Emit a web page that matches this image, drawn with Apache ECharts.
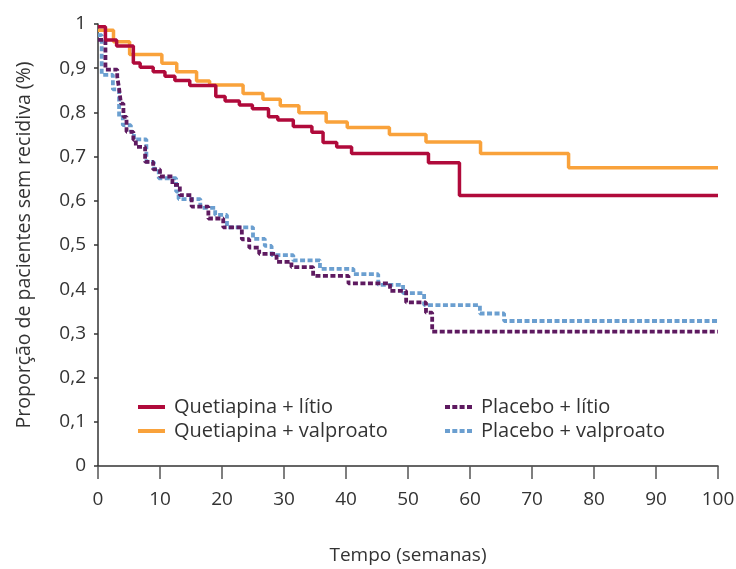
<!DOCTYPE html>
<html>
<head>
<meta charset="utf-8">
<script src="https://cdn.jsdelivr.net/npm/echarts@6/dist/echarts.min.js"></script>
<style>html,body{margin:0;padding:0;background:#fff}#c{width:736px;height:569px}</style>
</head>
<body>
<div id="c"></div>
<script>
// Data (Kaplan-Meier step curves)
const seriesNames = ['Quetiapina + lítio', 'Quetiapina + valproato', 'Placebo + lítio', 'Placebo + valproato'];
const xTicks = [0, 10, 20, 30, 40, 50, 60, 70, 80, 90, 100];
const yTickLabels = ['0', '0,1', '0,2', '0,3', '0,4', '0,5', '0,6', '0,7', '0,8', '0,9', '1'];

const quetLitioT = [0, 1.2, 3.0, 5.7, 6.8, 8.9, 10.8, 12.4, 14.8, 19.0, 20.5, 22.8, 24.9, 27.5, 29.0, 31.5, 34.5, 36.3, 38.5, 40.9, 53.3, 58.3, 100];
const quetLitioV = [0.994, 0.964, 0.950, 0.912, 0.902, 0.892, 0.882, 0.872, 0.861, 0.836, 0.826, 0.817, 0.808, 0.790, 0.783, 0.768, 0.755, 0.732, 0.722, 0.707, 0.686, 0.612, 0.612];

const quetValpT = [0, 2.5, 5.1, 10.3, 12.7, 15.9, 18.0, 23.4, 26.6, 29.4, 32.4, 36.8, 40.2, 47.0, 52.9, 61.7, 75.9, 100];
const quetValpV = [0.986, 0.960, 0.931, 0.911, 0.892, 0.871, 0.862, 0.843, 0.830, 0.815, 0.799, 0.778, 0.766, 0.750, 0.733, 0.707, 0.675, 0.675];

const placLitioT = [0, 1.2, 3.1, 3.4, 3.7, 4.1, 4.6, 5.7, 6.1, 7.6, 8.9, 10.0, 12.0, 13.2, 15.1, 17.8, 20.2, 23.2, 24.4, 26.0, 28.8, 31.2, 34.7, 40.4, 47.1, 49.7, 52.9, 53.9, 100];
const placLitioV = [0.964, 0.897, 0.881, 0.854, 0.820, 0.790, 0.756, 0.738, 0.722, 0.688, 0.671, 0.655, 0.636, 0.613, 0.587, 0.560, 0.540, 0.513, 0.494, 0.480, 0.462, 0.450, 0.430, 0.413, 0.396, 0.370, 0.347, 0.304, 0.304];

const placValpT = [0, 0.6, 2.4, 3.4, 4.0, 5.3, 5.8, 7.8, 9.0, 9.8, 12.6, 13.0, 16.5, 18.9, 20.8, 25.0, 26.9, 28.0, 31.5, 35.8, 41.2, 45.2, 49.2, 52.6, 61.6, 65.5, 100];
const placValpV = [0.975, 0.885, 0.852, 0.790, 0.771, 0.756, 0.739, 0.688, 0.672, 0.651, 0.621, 0.604, 0.584, 0.568, 0.540, 0.514, 0.498, 0.477, 0.465, 0.446, 0.434, 0.410, 0.391, 0.364, 0.345, 0.328, 0.328];

const colors = ['#B00A3B', '#F9A23B', '#5E1A60', '#6B9FD0'];
const FONT = 'Open Sans';
const SOLID_ICON = 'rect';
const DASH_ICON = 'path://M0,0h5v4h-5zM7.3,0h5v4h-5zM14.6,0h5v4h-5zM22,0h5v4h-5z';

function pairs(t, v) { return t.map((x, i) => [x, v[i]]); }

const chart = echarts.init(document.getElementById('c'), null, { renderer: 'canvas' });

function mkSeries(i, t, v, dashed) {
  return {
    name: seriesNames[i],
    type: 'line',
    step: 'end',
    data: pairs(t, v),
    symbol: 'none',
    showSymbol: false,
    clip: false,
    z: 10 - i,
    lineStyle: { color: colors[i], width: dashed ? 3.8 : 3.5, type: dashed ? [5, 2.5] : 'solid', cap: 'butt' },
    itemStyle: { color: colors[i] },
    emphasis: { disabled: true },
    animation: false
  };
}

function legendBlock(left, idx) {
  return {
    left: left, top: 392, orient: 'vertical', itemGap: 4, itemWidth: 27, itemHeight: 4,
    data: idx.map(i => ({ name: seriesNames[i], icon: i < 2 ? SOLID_ICON : DASH_ICON,
      itemStyle: { color: colors[i] } })),
    textStyle: { fontFamily: FONT, fontSize: 20, color: '#333', padding: [0, 0, 0, 4] },
    selectedMode: false
  };
}

chart.setOption({
  animation: false,
  textStyle: { fontFamily: FONT, color: '#333' },
  grid: { left: 98, right: 18, top: 24, bottom: 103, containLabel: false, outerBoundsMode: 'none' },
  legend: [legendBlock(133, [0, 1]), legendBlock(440, [2, 3])],
  xAxis: {
    type: 'value', min: 0, max: 100, interval: 10,
    name: 'Tempo (semanas)', nameLocation: 'middle', nameGap: 80,
    nameTextStyle: { fontFamily: FONT, fontSize: 19, color: '#333' },
    axisLine: { show: true, lineStyle: { color: '#333', width: 1.5 } },
    axisTick: { show: true, length: 13, lineStyle: { color: '#555', width: 1.5 } },
    axisLabel: { fontFamily: FONT, fontSize: 19, color: '#333', margin: 24,
      formatter: (val) => { const i = xTicks.indexOf(val); return i >= 0 ? String(xTicks[i]) : ''; } },
    splitLine: { show: false }
  },
  yAxis: {
    type: 'value', min: 0, max: 1, interval: 0.1,
    name: 'Proporção de pacientes sem recidiva (%)', nameLocation: 'middle', nameGap: 64,
    nameTextStyle: { fontFamily: FONT, fontSize: 19.5, color: '#333' },
    axisLine: { show: true, lineStyle: { color: '#333', width: 1.5 } },
    axisTick: { show: true, length: 4, lineStyle: { color: '#333', width: 1.5 } },
    axisLabel: { fontFamily: FONT, fontSize: 19, color: '#333', margin: 12,
      formatter: (val) => yTickLabels[Math.round(val * 10)] },
    splitLine: { show: false }
  },
  series: [
    mkSeries(0, quetLitioT, quetLitioV, false),
    mkSeries(1, quetValpT, quetValpV, false),
    mkSeries(2, placLitioT, placLitioV, true),
    mkSeries(3, placValpT, placValpV, true)
  ]
});
</script>
</body>
</html>
